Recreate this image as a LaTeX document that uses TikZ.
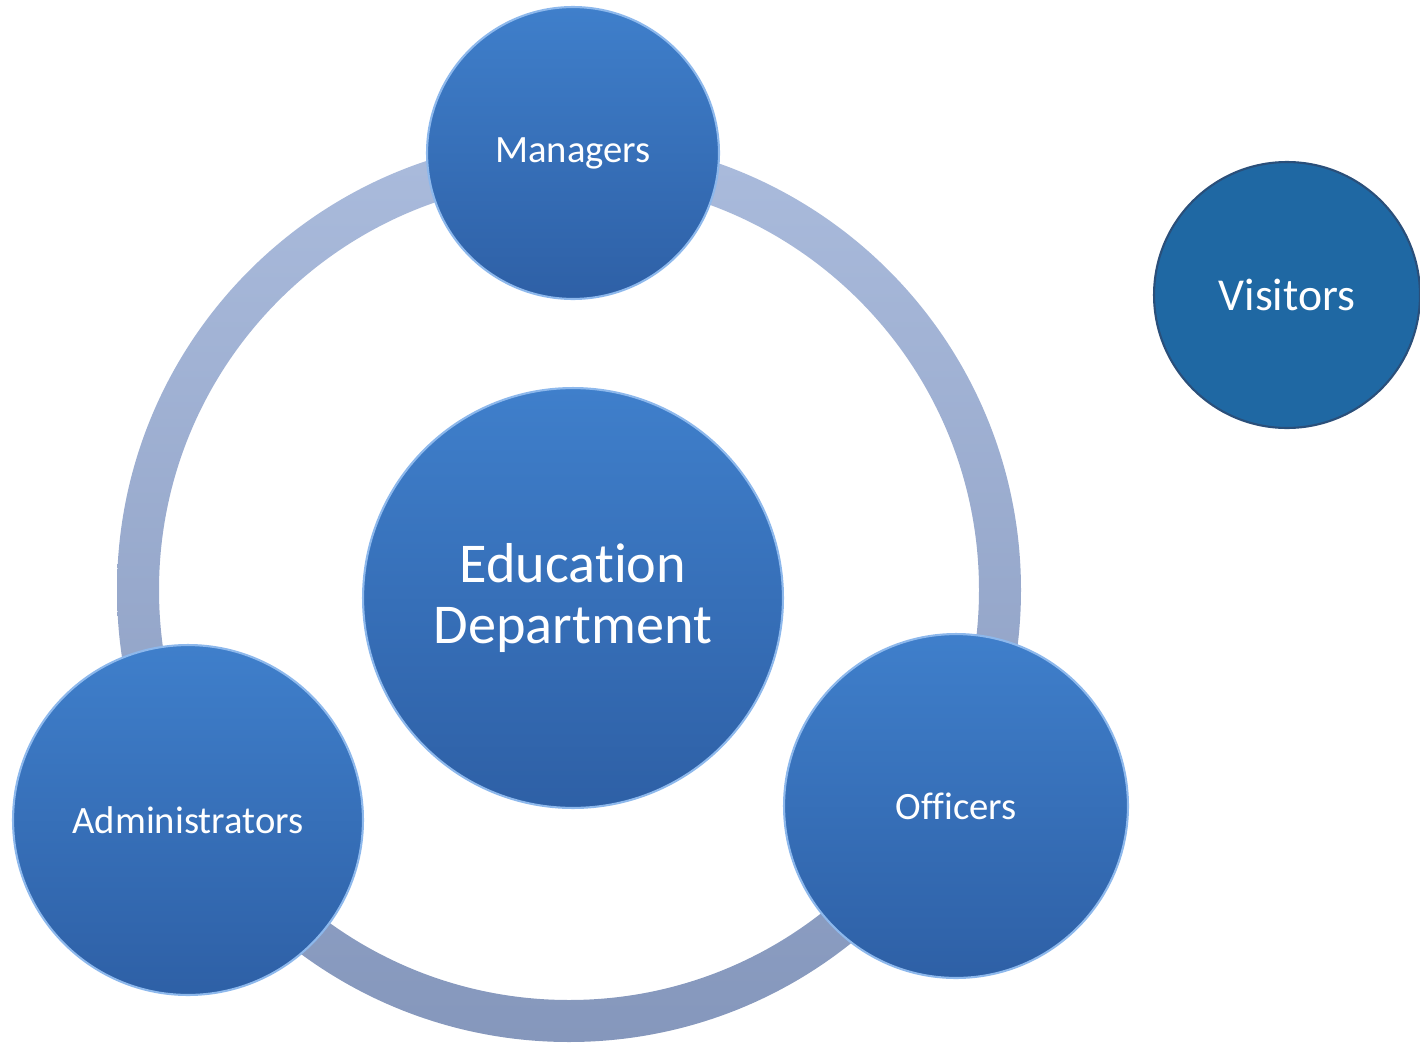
\documentclass[tikz,border=0pt]{standalone}
\usepackage{fontspec}
\setmainfont{Carlito}[Ligatures=CommonOff]
\usepackage{xcolor}
\usepackage{tikz}
\usetikzlibrary{positioning}
\definecolor{balltop}{HTML}{3F7FCB}
\definecolor{ballbot}{HTML}{2E60A6}
\definecolor{ballrim}{HTML}{8DB8EC}
\definecolor{visit}{HTML}{1F68A3}
\definecolor{visitrim}{HTML}{2A4F7A}
\definecolor{ringtop}{HTML}{AABBDC}
\definecolor{ringbot}{HTML}{8597BC}
\tikzset{
  ball/.style={circle, draw=ballrim, line width=1.2pt, top color=balltop, bottom color=ballbot,
    text=white, align=center, font=\fontsize{22}{26}\selectfont, minimum size=#1, inner sep=0pt},
  ball/.default=6.9cm,
  lone/.style={circle, draw=visitrim, line width=1.2pt, fill=visit,
    text=white, align=center, font=\fontsize{26}{30}\selectfont, minimum size=#1, inner sep=0pt},
}

\begin{document}
\begin{tikzpicture}[x=0.02cm, y=-0.02cm]
  \useasboundingbox (0,0) rectangle (1420,1048);
  \coordinate (mid) at (569,590);
  % ring behind the outer balls
  \shade[top color=ringtop, bottom color=ringbot, even odd rule]
    (mid) circle[radius=452] (mid) circle[radius=410];

  \node[ball=8.4cm, font=\fontsize{32}{35}\selectfont] (edu) at (573,598) {Education\\Department};
  \node[ball=5.84cm] (mgr) at (573,153) {Managers};
  \node[ball=7.0cm] (adm) at (188,820) {Administrators};
  \node[ball=6.88cm] (off) at (956,806) {Officers};
  \node[lone=5.32cm] (vis) at (1287,295) {Visitors};
\end{tikzpicture}
\end{document}
